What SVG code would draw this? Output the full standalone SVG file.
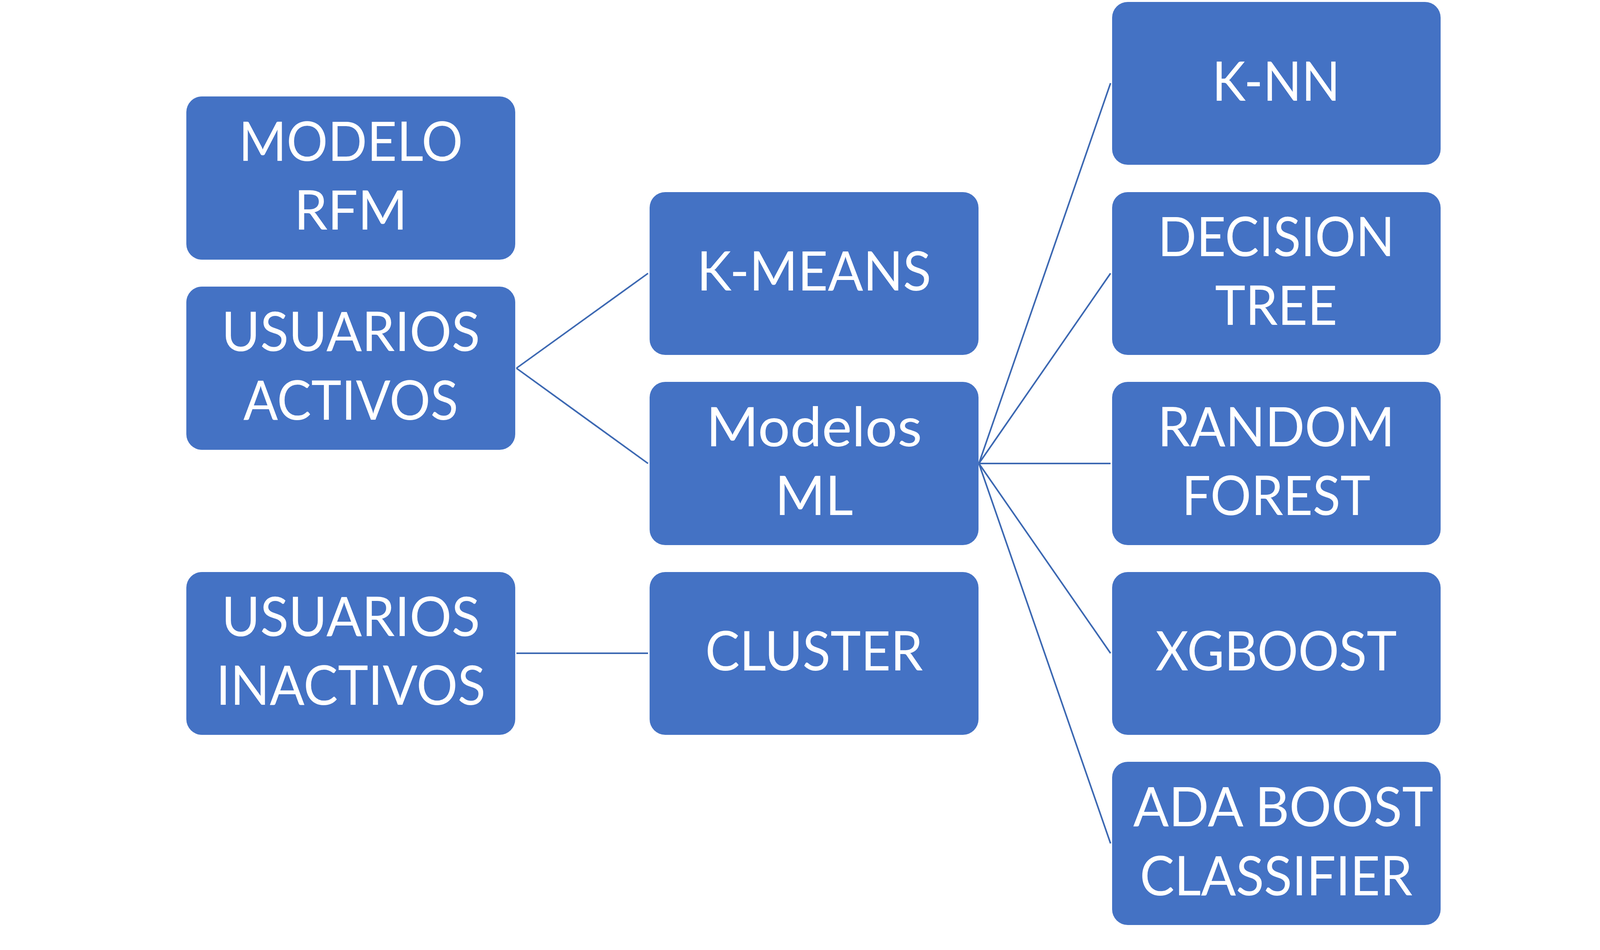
<svg xmlns="http://www.w3.org/2000/svg" width="4165" height="2433" viewBox="0 0 4165 2433">
<style>
.box{fill:#4472C4;}
.t{font-family:Lato,"Liberation Sans",sans-serif;font-size:140px;fill:#FFFFFF;text-anchor:middle;}
.c{stroke:#3C68B2;stroke-width:4;fill:none;}
</style>
<rect width="4165" height="2433" fill="#FFFFFF"/>
<g id="connectors">
<line class="c" x1="1322" y1="943" x2="1659" y2="700"/>
<line class="c" x1="1322" y1="943" x2="1659" y2="1187"/>
<line class="c" x1="1322" y1="1673" x2="1659" y2="1673"/>
<line class="c" x1="2506" y1="1187" x2="2843" y2="213"/>
<line class="c" x1="2506" y1="1187" x2="2843" y2="700"/>
<line class="c" x1="2506" y1="1187" x2="2843" y2="1187"/>
<line class="c" x1="2506" y1="1187" x2="2843" y2="1673"/>
<line class="c" x1="2506" y1="1187" x2="2843" y2="2160"/>
</g>
<g id="modelo-rfm">
<rect class="box" x="477" y="247" width="842" height="418" rx="40"/>
<text class="t" x="898" y="412" textLength="574" lengthAdjust="spacingAndGlyphs">MODELO</text>
<text class="t" x="898" y="588" textLength="290" lengthAdjust="spacingAndGlyphs">RFM</text>
</g>
<g id="usuarios-activos">
<rect class="box" x="477" y="734" width="842" height="418" rx="40"/>
<text class="t" x="898" y="899" textLength="662" lengthAdjust="spacingAndGlyphs">USUARIOS</text>
<text class="t" x="898" y="1075" textLength="550" lengthAdjust="spacingAndGlyphs">ACTIVOS</text>
</g>
<g id="usuarios-inactivos">
<rect class="box" x="477" y="1465" width="842" height="417" rx="40"/>
<text class="t" x="898" y="1629" textLength="662" lengthAdjust="spacingAndGlyphs">USUARIOS</text>
<text class="t" x="898" y="1805" textLength="690" lengthAdjust="spacingAndGlyphs">INACTIVOS</text>
</g>
<g id="k-means">
<rect class="box" x="1663" y="492" width="842" height="417" rx="40"/>
<text class="t" x="2084" y="744" textLength="600" lengthAdjust="spacingAndGlyphs">K-MEANS</text>
</g>
<g id="modelos-ml">
<rect class="box" x="1663" y="978" width="842" height="418" rx="40"/>
<text class="t" x="2084" y="1143" textLength="553" lengthAdjust="spacingAndGlyphs">Modelos</text>
<text class="t" x="2084" y="1319" textLength="200" lengthAdjust="spacingAndGlyphs">ML</text>
</g>
<g id="cluster">
<rect class="box" x="1663" y="1465" width="842" height="417" rx="40"/>
<text class="t" x="2084" y="1717" textLength="557" lengthAdjust="spacingAndGlyphs">CLUSTER</text>
</g>
<g id="k-nn">
<rect class="box" x="2847" y="5" width="841" height="417" rx="40"/>
<text class="t" x="3267" y="258" textLength="328" lengthAdjust="spacingAndGlyphs">K-NN</text>
</g>
<g id="decision-tree">
<rect class="box" x="2847" y="492" width="841" height="417" rx="40"/>
<text class="t" x="3267" y="656" textLength="606" lengthAdjust="spacingAndGlyphs">DECISION</text>
<text class="t" x="3267" y="832" textLength="313" lengthAdjust="spacingAndGlyphs">TREE</text>
</g>
<g id="random-forest">
<rect class="box" x="2847" y="978" width="841" height="418" rx="40"/>
<text class="t" x="3267" y="1143" textLength="607" lengthAdjust="spacingAndGlyphs">RANDOM</text>
<text class="t" x="3267" y="1319" textLength="483" lengthAdjust="spacingAndGlyphs">FOREST</text>
</g>
<g id="xgboost">
<rect class="box" x="2847" y="1465" width="841" height="417" rx="40"/>
<text class="t" x="3267" y="1717" textLength="618" lengthAdjust="spacingAndGlyphs">XGBOOST</text>
</g>
<g id="ada-boost-classifier">
<rect class="box" x="2847" y="1951" width="841" height="418" rx="40"/>
<text class="t" x="3285" y="2116" textLength="768" lengthAdjust="spacingAndGlyphs">ADA BOOST</text>
<text class="t" x="3267" y="2293" textLength="698" lengthAdjust="spacingAndGlyphs">CLASSIFIER</text>
</g>
</svg>
